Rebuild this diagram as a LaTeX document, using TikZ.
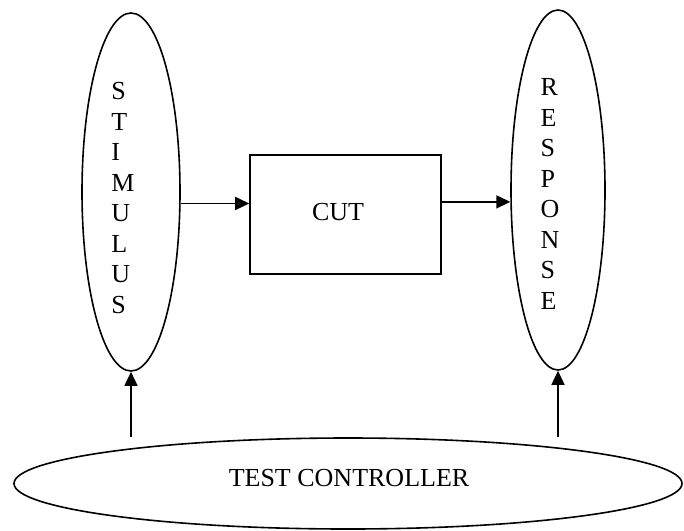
\documentclass[tikz,border=0pt]{standalone}
\usepackage{fontspec}
\setmainfont{Liberation Serif}
\usetikzlibrary{shapes.geometric,arrows.meta}

\begin{document}
\begin{tikzpicture}[x=1pt,y=-1pt,line width=1.6pt,
	blob/.style={ellipse,draw,inner sep=0pt},
	word/.style={font=\fontsize{26}{30.5}\selectfont},
	>={Triangle[length=14pt,width=13pt]}]
	\useasboundingbox (0,0) rectangle (684,530);
	\node[blob,minimum width=98pt,minimum height=358pt] (stim) at (131,192) {};
	\node[blob,minimum width=94pt,minimum height=360pt] (resp) at (558,190) {};
	\node[draw,minimum width=191pt,minimum height=119pt] (cut) at (345.5,214.5) {};
	\node[word] (cuttxt) at (338,212) {CUT};
	\node[blob,minimum width=668pt,minimum height=91pt] (ctrl) at (348,483.5) {};
	\node[word] (ctrltxt) at (349,478) {TEST CONTROLLER};
	\node[word,align=left,inner sep=0pt] (stimtxt) at (123,198) {S\\T\\I\\M\\U\\L\\U\\S};
	\node[word,align=left,inner sep=0pt] (resptxt) at (550,194) {R\\E\\S\\P\\O\\N\\S\\E};
	\draw [->] (stim.-13.3) to (stim.-13.3 -| cut.west);
	\draw [->] (resp.194.35 -| cut.east) to (resp.194.35);
	\draw [->] (stim.south |- ctrl.north) to (stim.south);
	\draw [->] (resp.south |- ctrl.north) to (resp.south);
\end{tikzpicture}
\end{document}
